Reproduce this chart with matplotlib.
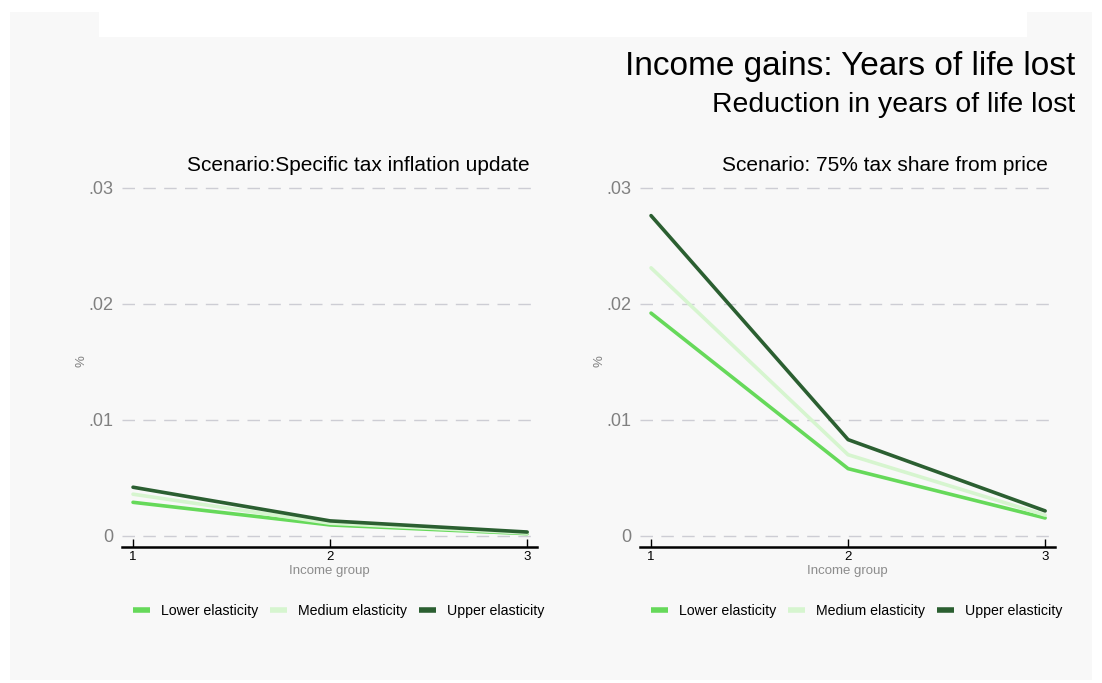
import matplotlib.pyplot as plt
from matplotlib.patches import Rectangle

plt.rcParams['font.family'] = ['Liberation Sans', 'DejaVu Sans']

# data
groups = [1, 2, 3]
series_names = ['Lower elasticity', 'Medium elasticity', 'Upper elasticity']
series_colors = ['#66d95a', '#d6f5cf', '#2b5f31']

inflation_lower = [0.0029, 0.00095, 0.0002]
inflation_medium = [0.0036, 0.0011, 0.00025]
inflation_upper = [0.0042, 0.0013, 0.00034]

share75_lower = [0.0192, 0.0058, 0.00155]
share75_medium = [0.0231, 0.0070, 0.0018]
share75_upper = [0.0276, 0.0083, 0.00216]

panel_titles = ['Scenario:Specific tax inflation update',
                'Scenario: 75% tax share from price']
yticks = [0, 0.01, 0.02, 0.03]
ytick_labels = ['0', '.01', '.02', '.03']

W, H = 1102, 683
fig = plt.figure(figsize=(W / 100, H / 100), dpi=100, facecolor='white')

# background panel like the Stata graph region
fig.patches.append(Rectangle((10 / W, 3 / H), 1082 / W, 668 / H,
                             transform=fig.transFigure, facecolor='#f8f8f8',
                             edgecolor='none', zorder=-3))
fig.patches.append(Rectangle((99 / W, (H - 37) / H), 928 / W, 25 / H,
                             transform=fig.transFigure, facecolor='white',
                             edgecolor='none', zorder=-2))

fig.text(1075 / W, 1 - 67 / H, 'Income gains: Years of life lost',
         ha='right', va='center', fontsize=24)
fig.text(1075 / W, 1 - 105 / H, 'Reduction in years of life lost',
         ha='right', va='center', fontsize=20.4)

panels = [
    (122, [inflation_lower, inflation_medium, inflation_upper]),
    (640, [share75_lower, share75_medium, share75_upper]),
]

for i, (left_px, data) in enumerate(panels):
    ax = fig.add_axes([left_px / W, (H - 547) / H, 415 / W, (547 - 175) / H])
    ax.set_facecolor('none')
    for vals, name, col in zip(data, series_names, series_colors):
        ax.plot(groups, vals, color=col, lw=2.6, label=name, solid_capstyle='round')

    ax.set_xlim(0.944, 3.05)
    ax.set_ylim(-0.00095, 0.0311)
    ax.set_yticks(yticks)
    ax.set_yticklabels(ytick_labels)
    ax.set_xticks(groups)
    ax.grid(axis='y', color='#cdcdd4', lw=1, linestyle=(0, (9, 6)))
    ax.set_axisbelow(True)
    for s in ['top', 'right', 'left']:
        ax.spines[s].set_visible(False)
    ax.spines['bottom'].set_linewidth(1.8)
    ax.tick_params(axis='y', length=0, labelsize=13, labelcolor='#808080', pad=6)
    ax.tick_params(axis='x', direction='in', length=6, width=1, labelsize=9.5, pad=3)

    ax.set_xlabel('Income group', fontsize=9.5, color='#8c8c8c', labelpad=1)
    ax.set_ylabel('%', fontsize=9.5, color='#808080', labelpad=1)

    ax.set_title(panel_titles[i], loc='right', fontsize=15, pad=1, x=0.983)

    leg = ax.legend(loc='upper center', bbox_to_anchor=(0.522, -0.118), ncol=3,
                    frameon=False, fontsize=10.2, handlelength=1.2,
                    handletextpad=0.8, columnspacing=0.8)
    for line in leg.get_lines():
        line.set_linewidth(4)
        line.set_solid_capstyle('butt')

fig.savefig('out.png', dpi=100, facecolor=fig.get_facecolor())
